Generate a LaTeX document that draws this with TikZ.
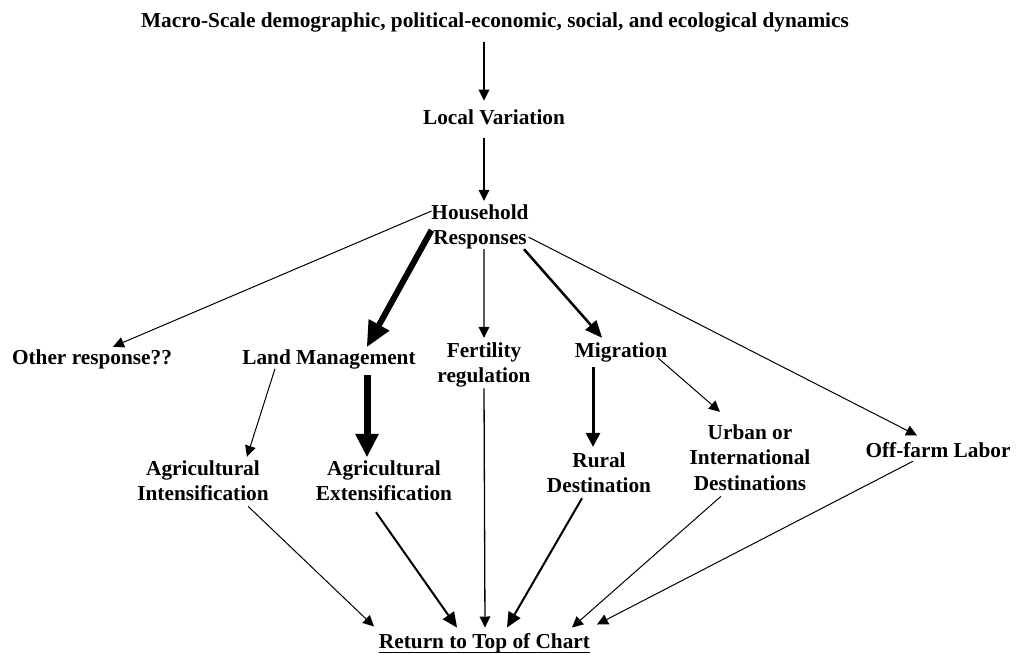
\documentclass[tikz,border=0pt]{standalone}
\usepackage{fontspec}
\setmainfont{Liberation Serif}
\usetikzlibrary{arrows.meta}
\begin{document}
\begin{tikzpicture}[x=1pt,y=-1pt,
  lbl/.style={font=\fontsize{21.3}{25.5}\selectfont\bfseries, inner sep=0pt, outer sep=0pt, align=center},
  conn/.style={draw=black, line join=miter},
  tarr/.style={conn, line width=1pt, -{Triangle[length=11pt,width=11pt,line width=0pt]}},
  varr/.style={conn, line width=1.3pt, -{Triangle[length=11pt,width=11pt,line width=0pt]}},
  marr/.style={conn, line width=2.5pt, -{Triangle[length=17pt,width=15pt,line width=0pt]}},
  rarr/.style={conn, line width=3pt, -{Triangle[length=14pt,width=15pt,line width=0pt]}},
  bmarr/.style={conn, line width=2pt, -{Triangle[length=15pt,width=14pt,line width=0pt]}},
  barr/.style={conn, line width=6pt, -{Triangle[length=25pt,width=24pt,line width=0pt]}},
  xarr/.style={conn, line width=7pt, -{Triangle[length=23pt,width=24pt,line width=0pt]}}
]
\useasboundingbox (0,0) rectangle (1016,655);

% labels
\node[lbl, anchor=base] (top) at (495,28) {Macro-Scale demographic, political-economic, social, and ecological dynamics};
\node[lbl, anchor=base] (lv) at (494,125) {Local Variation};
\node[lbl] (hh) at (480,226.8) {Household\\Responses};
\node[lbl, anchor=base] (other) at (92,364) {Other response??};
\node[lbl, anchor=base] (land) at (329,364) {Land Management};
\node[lbl] (fert) at (484,364.8) {Fertility\\regulation};
\node[lbl, anchor=base] (mig) at (621,357) {Migration};
\node[lbl] (intens) at (203,480.5) {Agricultural\\Intensification};
\node[lbl] (extens) at (384,480.5) {Agricultural\\Extensification};
\node[lbl] (rural) at (599,472.5) {Rural\\Destination};
\node[lbl] (urban) at (750,457.3) {Urban or\\International\\Destinations};
\node[lbl, anchor=base] (off) at (938,457) {Off-farm Labor};
\node[lbl, anchor=base] (ret) at (484.5,648) {Return to Top of Chart};
\draw[line width=1.6pt] ([shift={(0,4.5)}]ret.base west) -- ([shift={(0,4.5)}]ret.base east);

% top chain
\draw[varr] ([shift={(-11,9.4)}]top.south) -- ([shift={(-10,-9.5)}]lv.north);
\draw[varr] ([shift={(-10,13)}]lv.south) -- ([shift={(4,-3.5)}]hh.north);

% household responses
\draw[tarr] (hh.162) -- ([shift={(21,-2.5)}]other.north);
\draw[barr] (hh.184) -- ([shift={(38,-2.5)}]land.north);
\draw[varr] (hh.280) -- ([shift={(0,-4.5)}]fert.north);
\draw[marr] (hh.333) -- ([shift={(-19,-4.5)}]mig.north);
\draw[tarr] (hh.348) -- ([shift={(-21,-6.5)}]off.north);

% second level
\draw[tarr] ([shift={(-54,0)}]land.south) -- ([shift={(44,-3.5)}]intens.north);
\draw[xarr] ([shift={(38,6.4)}]land.south) -- ([shift={(-17,-3.5)}]extens.north);
\draw[rarr] ([shift={(-28,5.4)}]mig.south) -- ([shift={(-6,-5.5)}]rural.north);
\draw[tarr] ([shift={(-9,-3.6)}]mig.south east) -- ([shift={(-30,-12.5)}]urban.north);

% back to the top
\draw[tarr] ([shift={(45,5.5)}]intens.south) -- ([shift={(-5,-6.5)}]ret.north west);
\draw[bmarr] ([shift={(-8,11.5)}]extens.south) -- ([shift={(-27.5,-5.5)}]ret.north);
\draw[varr] ([shift={(0,1)}]fert.south) -- ([shift={(0.5,-5.5)}]ret.north);
\draw[bmarr] ([shift={(-17,5.5)}]rural.south) -- ([shift={(22.5,-5.5)}]ret.north);
\draw[tarr] ([shift={(-29,6)}]urban.south) -- ([shift={(87.5,-5.5)}]ret.north);
\draw[tarr] ([shift={(-25,4)}]off.south) -- ([shift={(7,-8.5)}]ret.north east);
\end{tikzpicture}
\end{document}
